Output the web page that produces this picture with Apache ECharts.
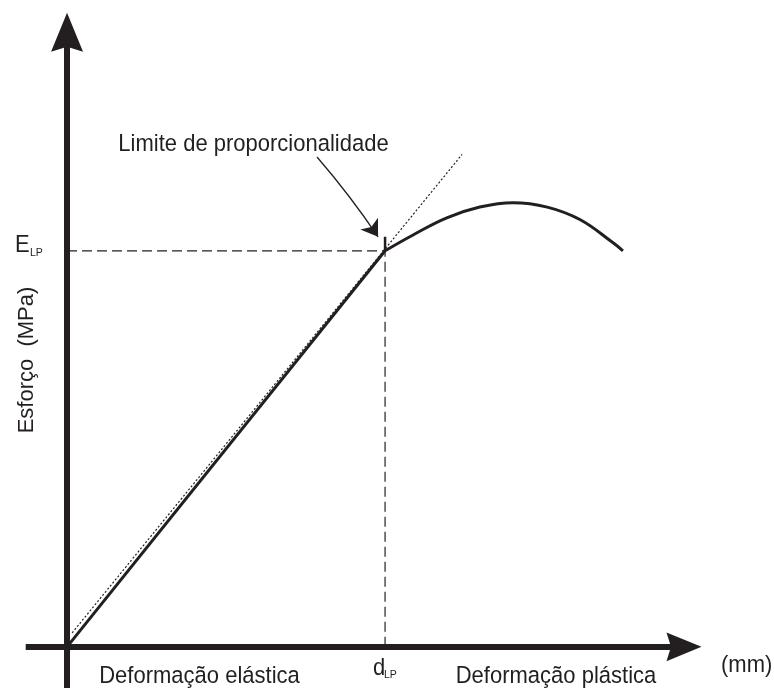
<!DOCTYPE html>
<html><head><meta charset="utf-8">
<script src="https://cdn.jsdelivr.net/npm/echarts@6/dist/echarts.min.js"></script>
<style>html,body{margin:0;padding:0;background:#fff}#c{width:774px;height:688px}</style>
</head><body><div id="c"></div>
<script>
// ---- data ----
const xRange = [-6.5, 97];
const yRange = [-6.5, 97];
const limitPoint = [50, 62.5];            // [d_LP, E_LP]
const elasticCurve = [[0, 0], [50, 62.5]];
const plasticCurve = [[50, 62.5], [54.4, 65.0], [59.7, 67.7], [64.9, 69.4], [70.1, 70.1],
                      [75.5, 69.4], [80.7, 67.4], [85.8, 63.8], [87.4, 62.5]];
const tangentLine = [[0.8, 2.2], [62.1, 77.7]];
const limitTick = [[50, 62.5], [50, 64.7]];
const annotationArrow = [[39.3, 77.3], [48.9, 64.7]];

const annotationText = 'Limite de proporcionalidade';
const yTitle = 'Esforço  (MPa)';
const xUnit = '(mm)';
const regionLabels = ['Deformação elástica', 'Deformação plástica'];
const yMarkLabel = ['E', 'LP'];
const xMarkLabel = ['d', 'LP'];

const guideH = [[0, limitPoint[1]], limitPoint];
const guideV = [[limitPoint[0], 0], limitPoint];

const INK = '#231f20';
const FONT = '"Liberation Sans", Arial, Helvetica, sans-serif';
const arrowPath = 'path://M16,0 L32,39 L16,34 L0,39 Z';

function txt(text, x, y, size, align, extra) {
  return Object.assign({
    type: 'text', x: x, y: y, silent: true, scaleY: size > 15 ? 1.08 : 1,
    style: {
      text: text, fill: INK, fontSize: size, fontFamily: FONT,
      textAlign: align, textVerticalAlign: 'middle',
      align: align, verticalAlign: 'middle'
    }
  }, extra || {});
}

const chart = echarts.init(document.getElementById('c'), null, {renderer: 'canvas'});
chart.setOption({
  animation: false,
  backgroundColor: '#ffffff',
  grid: {left: 25.7, right: 90, top: 32.2, bottom: 0, containLabel: false},
  xAxis: {
    type: 'value', min: xRange[0], max: xRange[1],
    splitLine: {show: false}, axisTick: {show: false}, axisLabel: {show: false},
    axisLine: {show: true, onZero: true, symbol: ['none', arrowPath], symbolSize: [30, 35],
      lineStyle: {color: INK, width: 6, cap: 'butt'}}
  },
  yAxis: {
    type: 'value', min: yRange[0], max: yRange[1],
    splitLine: {show: false}, axisTick: {show: false}, axisLabel: {show: false},
    axisLine: {show: true, onZero: true, symbol: ['none', arrowPath], symbolSize: [32, 39],
      lineStyle: {color: INK, width: 6, cap: 'butt'}}
  },
  series: [
    {type: 'line', data: guideH, showSymbol: false, silent: true,
      lineStyle: {color: INK, width: 1.2, type: [10, 5]}},
    {type: 'line', data: guideV, showSymbol: false, silent: true,
      lineStyle: {color: INK, width: 1.2, type: [10, 5]}},
    {type: 'line', data: tangentLine, showSymbol: false, silent: true,
      lineStyle: {color: INK, width: 1.2, type: [2, 2]}},
    {type: 'line', data: elasticCurve, showSymbol: false, silent: true, z: 3,
      lineStyle: {color: INK, width: 3}},
    {type: 'line', data: plasticCurve, showSymbol: false, silent: true, smooth: 0.4, z: 3,
      lineStyle: {color: INK, width: 3}},
    {type: 'line', data: limitTick, showSymbol: false, silent: true, z: 3,
      lineStyle: {color: INK, width: 2.5, cap: 'butt'}},
    {type: 'lines', coordinateSystem: 'cartesian2d', silent: true, z: 4,
      symbol: ['none', 'arrow'], symbolSize: 16,
      lineStyle: {color: INK, width: 1.3, curveness: 0.03, opacity: 1},
      data: [{coords: annotationArrow}]}
  ],
  graphic: [
    txt(annotationText, 253.5, 144.7, 22, 'center'),
    txt(regionLabels[0], 199.5, 676.5, 22, 'center'),
    txt(regionLabels[1], 556, 676.5, 22, 'center'),
    txt(xUnit, 721, 665, 22, 'left'),
    txt(yMarkLabel[0], 15, 245, 22, 'left'),
    txt(yMarkLabel[1], 30, 253.5, 10.5, 'left'),
    txt(xMarkLabel[0], 373, 668, 22, 'left'),
    txt(xMarkLabel[1], 384, 675, 10.5, 'left'),
    txt(yTitle, 26.5, 360, 22, 'center', {rotation: Math.PI / 2, scaleY: 1, scaleX: 1})
  ]
});
</script>
</body></html>
